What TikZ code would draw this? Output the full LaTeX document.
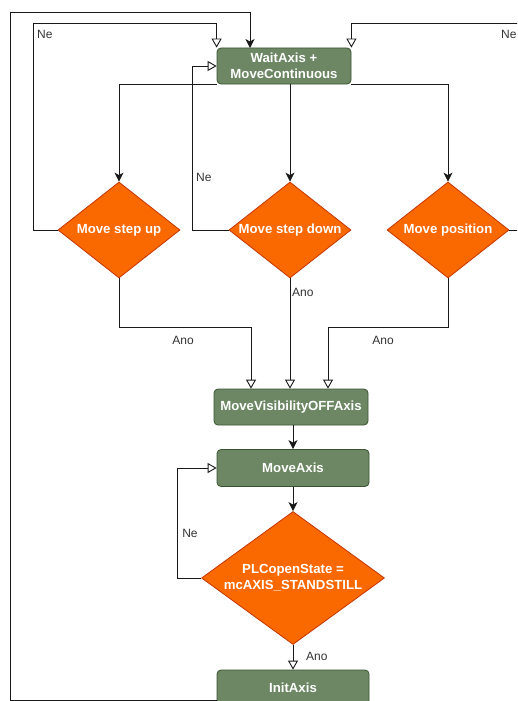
\documentclass[tikz,border=0pt]{standalone}
\usepackage{fontspec}
\setmainfont{Liberation Sans}
\usetikzlibrary{shapes.geometric,arrows.meta}
\definecolor{gfill}{HTML}{6D8764}
\definecolor{gline}{HTML}{3A5431}
\definecolor{ofill}{HTML}{FA6800}
\definecolor{oline}{HTML}{C73500}
\definecolor{lbl}{HTML}{333333}
\begin{document}
\begin{tikzpicture}[x=1pt,y=-1pt,
  box/.style={draw=gline,fill=gfill,rounded corners=4pt,line width=0.8pt,text=white,
    font=\fontsize{13.2}{16}\selectfont\bfseries,align=center,inner sep=0pt},
  dia/.style={diamond,draw=oline,fill=ofill,line width=0.8pt,inner sep=0pt,
    label={[text=white,font=\fontsize{13.2}{16}\selectfont\bfseries,align=center]center:#1}},
  conn/.style={line width=0.9pt,draw=black!90},
  fa/.style={conn,-{Stealth[length=9pt,width=9pt,inset=2.5pt]}},
  oa/.style={conn,-{Triangle[open,length=9pt,width=10pt,fill=white]}},
  lab/.style={text=lbl,font=\fontsize{12}{14}\selectfont,inner sep=1pt}]
\useasboundingbox (0,0) rectangle (517,701);
\clip (0,0) rectangle (517,701);
\fill[white] (0,0) rectangle (517,701);

\node[box,minimum width=134pt,minimum height=36pt] (wait) at (284,66) {WaitAxis +\\MoveContinuous};
\node[dia={Move step up},minimum width=122pt,minimum height=96pt] (up) at (119,230) {};
\node[dia={Move step down},minimum width=122pt,minimum height=96pt] (down) at (290,230) {};
\node[dia={Move position},minimum width=122pt,minimum height=96pt] (pos) at (448,230) {};
\node[box,minimum width=154pt,minimum height=36pt] (vis) at (291,407) {MoveVisibilityOFFAxis};
\node[box,minimum width=152pt,minimum height=37pt] (move) at (293,468) {MoveAxis};
\node[dia={PLCopenState =\\mcAXIS\_STANDSTILL},minimum width=183pt,minimum height=133pt] (plc) at (293,578) {};
\node[box,minimum width=152pt,minimum height=36pt] (init) at (293,688) {InitAxis};

% from wait to decisions
\draw[fa] (wait.south west) -| (up.north);
\draw[fa] (down.north |- wait.south) -- (down.north);
\draw[fa] (wait.south east) -| (pos.north);

% Ne loops
\coordinate (n1) at (33,23);
\draw[oa] (up.west) -| (n1) -| (wait.north west);
\node[lab,anchor=west] (ne1) at (36,34) {Ne};
\coordinate (n2) at (192,230);
\draw[oa] (down.west) -- (n2) |- (wait.west);
\node[lab,anchor=west] (ne2) at (195,177) {Ne};
\coordinate (n3) at (530,230);
\coordinate (n3b) at (530,23);
\draw[oa] (pos.east) -- (n3) -- (n3b) -| (wait.north east);
\node[lab,anchor=west] (ne3) at (500,34) {Ne};

% outer loop
\coordinate (o1) at (init.west |- 0,700);
\coordinate (o2) at (10,12);
\coordinate (o3) at (250,48);
\draw[fa] (o1) -| (o2) -| (o3);

% Ano to vis
\coordinate (a1) at (251,327);
\draw[oa] (up.south) |- (a1) -- (a1 |- vis.north);
\node[lab] (ano1) at (183,340) {Ano};
\draw[oa] (down.south) -- (down.south |- vis.north);
\node[lab,anchor=west] (ano2) at (291,292) {Ano};
\coordinate (a3) at (328,327);
\draw[oa] (pos.south) |- (a3) -- (a3 |- vis.north);
\node[lab] (ano3) at (383,340) {Ano};

\draw[fa] (move.north |- vis.south) -- (move.north);
\draw[fa] (move.south) -- (plc.north);
\coordinate (m1) at (177,578);
\draw[oa] (plc.west) -- (m1) |- (move.west);
\node[lab] (ne4) at (190,533) {Ne};
\draw[oa] (plc.south) -- (init.north);
\node[lab,anchor=west] (ano4) at (305,656) {Ano};
\end{tikzpicture}
\end{document}
